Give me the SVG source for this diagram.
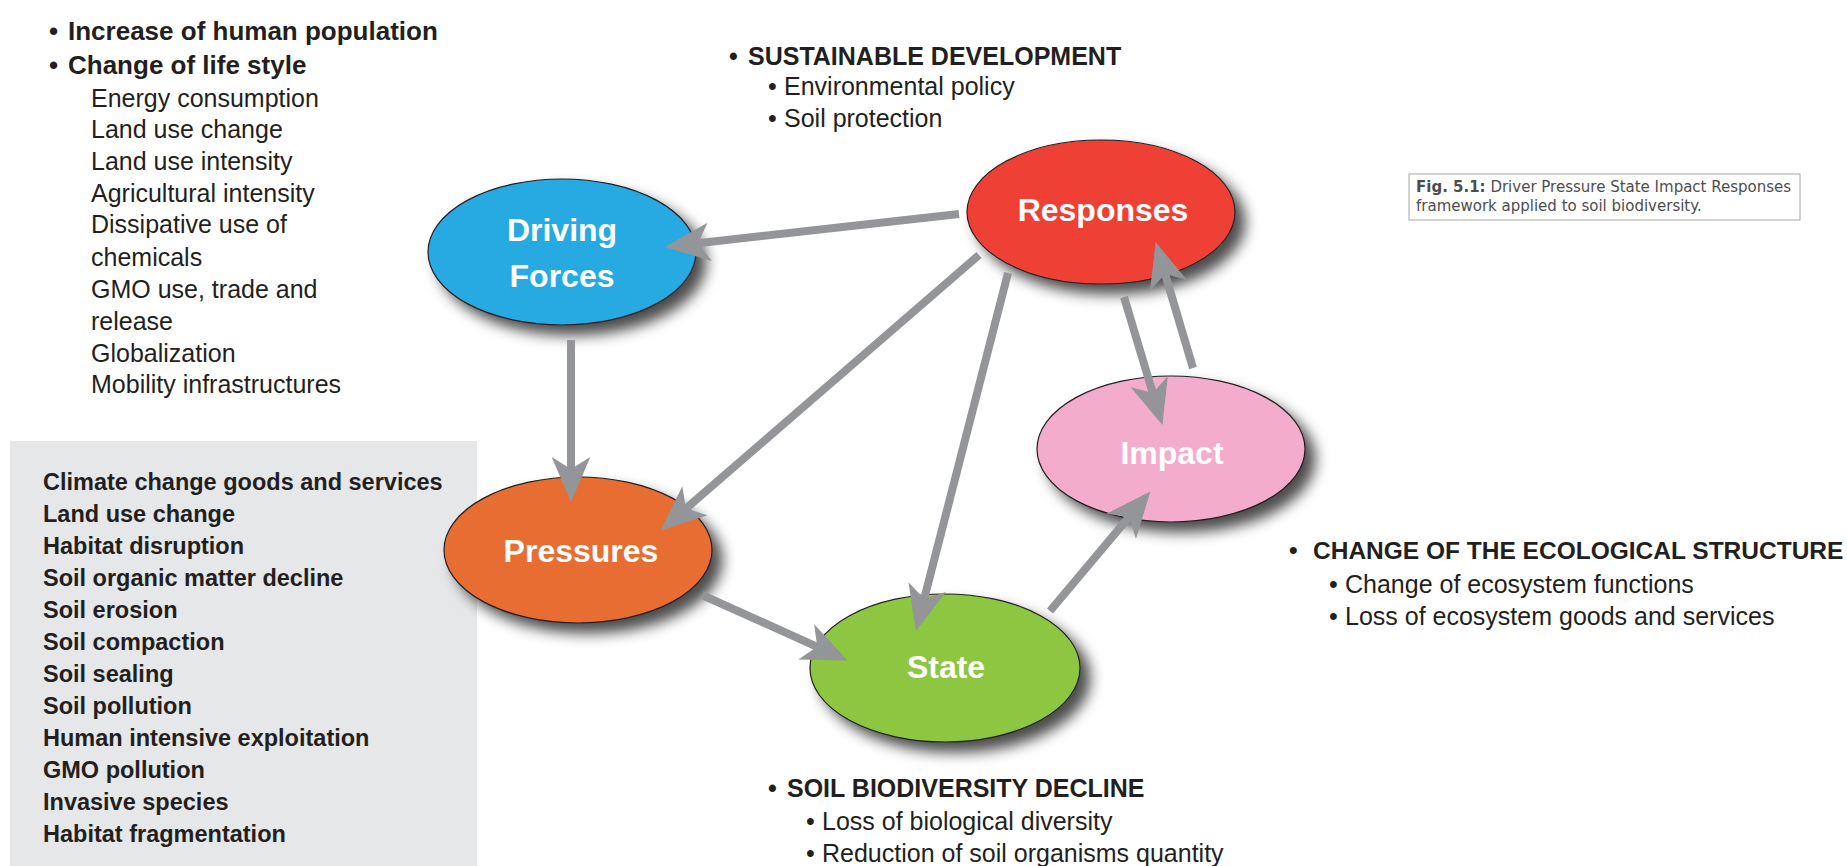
<svg xmlns="http://www.w3.org/2000/svg" width="1847" height="866" viewBox="0 0 1847 866">
<defs>
<filter id="shadow" x="-30%" y="-30%" width="170%" height="170%">
<feDropShadow dx="10" dy="10" stdDeviation="7" flood-color="#000" flood-opacity="0.7"/>
</filter>
<marker id="ah" markerUnits="userSpaceOnUse" orient="auto" refX="0" refY="0" markerWidth="60" markerHeight="60" viewBox="-15 -20 45 40" overflow="visible">
<path d="M0,0 L-9,-14.5 L25,0 L-9,14.5 Z" fill="#939598"/>
</marker>
</defs>
<style>
.node{stroke:#231F20;stroke-width:1.2;filter:url(#shadow)}
.lbl{font-family:"Liberation Sans",Arial,sans-serif;font-weight:bold;font-size:32px;fill:#fff;text-anchor:middle}
.conn{stroke:#939598;stroke-width:8;fill:none;marker-end:url(#ah)}
.h{font-family:"Liberation Sans",Arial,sans-serif;font-weight:bold;font-size:25px;fill:#231F20}
.r{font-family:"Liberation Sans",Arial,sans-serif;font-size:25px;fill:#231F20}
.box{font-family:"Liberation Sans",Arial,sans-serif;font-weight:bold;font-size:23.5px;fill:#231F20}
.cap{font-family:"DejaVu Sans",Verdana,sans-serif;font-size:15px;fill:#4d4d4d}
</style>
<rect width="1847" height="866" fill="#fff"/>

<g id="driver-text">
<text class="h" style="font-size:26px" x="49" y="40">•<tspan x="68">Increase of human population</tspan></text>
<text class="h" style="font-size:26px" x="49" y="74">•<tspan x="68">Change of life style</tspan></text>
<text class="r" x="91" y="107">Energy consumption</text>
<text class="r" x="91" y="138">Land use change</text>
<text class="r" x="91" y="170">Land use intensity</text>
<text class="r" x="91" y="202">Agricultural intensity</text>
<text class="r" x="91" y="233">Dissipative use of</text>
<text class="r" x="91" y="266">chemicals</text>
<text class="r" x="91" y="298">GMO use, trade and</text>
<text class="r" x="91" y="330">release</text>
<text class="r" x="91" y="362">Globalization</text>
<text class="r" x="91" y="393">Mobility infrastructures</text>
</g>

<g id="pressure-box">
<rect x="10" y="441" width="467" height="425" fill="#E6E7E8"/>
<text class="box" x="43" y="490">Climate change goods and services</text>
<text class="box" x="43" y="522">Land use change</text>
<text class="box" x="43" y="554">Habitat disruption</text>
<text class="box" x="43" y="586">Soil organic matter decline</text>
<text class="box" x="43" y="618">Soil erosion</text>
<text class="box" x="43" y="650">Soil compaction</text>
<text class="box" x="43" y="682">Soil sealing</text>
<text class="box" x="43" y="714">Soil pollution</text>
<text class="box" x="43" y="746">Human intensive exploitation</text>
<text class="box" x="43" y="778">GMO pollution</text>
<text class="box" x="43" y="810">Invasive species</text>
<text class="box" x="43" y="842">Habitat fragmentation</text>
</g>

<g id="response-text">
<text class="h" x="729" y="65">•<tspan x="748">SUSTAINABLE DEVELOPMENT</tspan></text>
<text class="r" x="768" y="95">•<tspan x="784">Environmental policy</tspan></text>
<text class="r" x="768" y="127">•<tspan x="784">Soil protection</tspan></text>
</g>

<g id="state-text">
<text class="h" x="768" y="797">•<tspan x="787">SOIL BIODIVERSITY DECLINE</tspan></text>
<text class="r" x="806" y="830">•<tspan x="822">Loss of biological diversity</tspan></text>
<text class="r" x="806" y="862">•<tspan x="822">Reduction of soil organisms quantity</tspan></text>
</g>

<g id="impact-text">
<text class="h" style="font-size:24.5px" x="1289" y="559">•<tspan x="1313">CHANGE OF THE ECOLOGICAL STRUCTURE</tspan></text>
<text class="r" x="1329" y="593">•<tspan x="1345">Change of ecosystem functions</tspan></text>
<text class="r" x="1329" y="625">•<tspan x="1345">Loss of ecosystem goods and services</tspan></text>
</g>

<g id="caption">
<rect x="1409" y="174" width="391" height="46" fill="#fff" stroke="#a6a6a6" stroke-width="1"/>
<text class="cap" x="1416" y="192"><tspan font-weight="bold">Fig. 5.1:</tspan> Driver Pressure State Impact Responses</text>
<text class="cap" x="1416" y="211">framework applied to soil biodiversity.</text>
</g>

<g id="driving-forces">
<ellipse class="node" cx="562" cy="252" rx="134" ry="73" fill="#27AAE1"/>
<text class="lbl" x="562" y="241">Driving</text>
<text class="lbl" x="562" y="287">Forces</text>
</g>
<g id="responses">
<ellipse class="node" cx="1101" cy="212" rx="134" ry="72" fill="#EF4136"/>
<text class="lbl" x="1103" y="221">Responses</text>
</g>
<g id="pressures">
<ellipse class="node" cx="578" cy="550" rx="134" ry="73" fill="#E86D33"/>
<text class="lbl" x="581" y="562">Pressures</text>
</g>
<g id="impact">
<ellipse class="node" cx="1171" cy="449" rx="134" ry="73" fill="#F4ACCC"/>
<text class="lbl" x="1172" y="464">Impact</text>
</g>
<g id="state">
<ellipse class="node" cx="945" cy="668" rx="135" ry="74" fill="#8DC63F"/>
<text class="lbl" x="946" y="678">State</text>
</g>

<g id="connectors">
<line class="conn" x1="959" y1="214" x2="697.8" y2="243.2"/>
<line class="conn" x1="571" y1="340" x2="571" y2="469"/>
<line class="conn" x1="979" y1="255" x2="685.9" y2="508.6"/>
<line class="conn" x1="1008" y1="273" x2="924.2" y2="598.8"/>
<line class="conn" x1="702" y1="595" x2="817.2" y2="646.8"/>
<line class="conn" x1="1050" y1="611" x2="1128.9" y2="517.1"/>
<line class="conn" x1="1124" y1="297" x2="1152.8" y2="393.1"/>
<line class="conn" x1="1193" y1="368" x2="1165.1" y2="274"/>
</g>
</svg>
